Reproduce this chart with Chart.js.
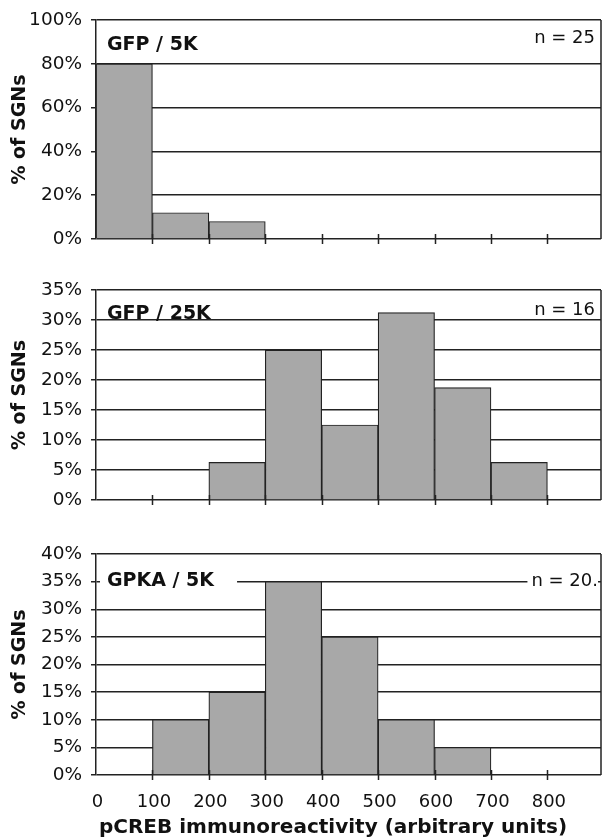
<!DOCTYPE html>
<html>
<head>
<meta charset="utf-8">
<script src="https://cdn.jsdelivr.net/npm/chart.js@4/dist/chart.umd.min.js"></script>
<style>
  html, body { margin: 0; padding: 0; background: #fff; }
  #wrap { position: relative; width: 602px; height: 840px; }
  canvas { position: absolute; left: 0; }
</style>
</head>
<body>
<div id="wrap">
  <canvas id="p1" width="602" height="270" style="top:0"></canvas>
  <canvas id="p2" width="602" height="250" style="top:270px"></canvas>
  <canvas id="p3" width="602" height="320" style="top:520px"></canvas>
</div>
<script>
// Histogram bins: lower edge of each 100-unit pCREB intensity bin
const binStarts = [0, 100, 200, 300, 400, 500, 600, 700, 800];
const binWidth = 100;
const xTickValues = [0, 100, 200, 300, 400, 500, 600, 700, 800];

// Percentage of SGNs falling in each bin
const gfp5k  = [80, 12, 8, 0, 0, 0, 0, 0, 0];
const gfp25k = [0, 0, 6.25, 25, 12.5, 31.25, 18.75, 6.25, 0];
const gpka5k = [0, 10, 15, 35, 25, 10, 5, 0, 0];

const panelNames  = ['GFP / 5K', 'GFP / 25K', 'GPKA / 5K'];
const panelCounts = ['n = 25', 'n = 16', 'n = 20.'];
const yMaxes = [100, 35, 40];
const ySteps = [20, 5, 5];

const FAMILY = "'DejaVu Sans', 'Liberation Sans', sans-serif";
const INK = '#222';
const TEXT = '#111';
const BAR_FILL = '#a8a8a8';

// Frame, crossing x ticks, panel captions, x tick labels and the x-axis title
const decor = {
  id: 'decor',
  afterDatasetsDraw(chart, args, o) {
    const { ctx, chartArea: a, scales: { x, y } } = chart;
    ctx.save();
    ctx.strokeStyle = INK;
    ctx.lineWidth = 1.5;

    // right frame edge
    ctx.beginPath();
    ctx.moveTo(a.right, a.top);
    ctx.lineTo(a.right, a.bottom);
    ctx.stroke();

    // tick marks at the bin boundaries, crossing the baseline
    const y0 = y.getPixelForValue(0);
    ctx.beginPath();
    for (let i = 1; i < binStarts.length; i++) {
      const px = Math.round(x.getPixelForValue(binStarts[i])) + 0.5;
      ctx.moveTo(px, y0 - 5);
      ctx.lineTo(px, y0 + 5);
    }
    ctx.stroke();

    ctx.textBaseline = 'middle';
    ctx.fillStyle = TEXT;

    // condition caption (left)
    ctx.font = 'bold 19px ' + FAMILY;
    const lx = a.left + 11;
    const ly = a.top + o.nameDy;
    if (o.mask) {
      const w = ctx.measureText(o.name).width;
      ctx.fillStyle = '#fff';
      ctx.fillRect(a.left + 4, ly - 9, w + 30, 18);
      ctx.fillStyle = TEXT;
    }
    ctx.textAlign = 'left';
    ctx.fillText(o.name, lx, ly);

    // sample size (right)
    ctx.font = '18px ' + FAMILY;
    const rx = a.right - o.countInset;
    const ry = a.top + o.countDy;
    if (o.mask) {
      const w = ctx.measureText(o.count).width;
      ctx.fillStyle = '#fff';
      ctx.fillRect(rx - w - 4, ry - 9, w + 4, 18);
      ctx.fillStyle = TEXT;
    }
    ctx.textAlign = 'right';
    ctx.fillText(o.count, rx, ry);

    // x tick labels and axis title under the lowest panel
    if (o.xTitle) {
      ctx.font = '18px ' + FAMILY;
      ctx.textAlign = 'center';
      xTickValues.forEach(v => {
        ctx.fillText(String(v), x.getPixelForValue(v) + 1.5, y0 + 27);
      });
      ctx.font = 'bold 20px ' + FAMILY;
      ctx.fillText(o.xTitle, o.xTitleX, y0 + 53);
    }
    ctx.restore();
  }
};

function makePanel(id, values, idx, opts) {
  return new Chart(document.getElementById(id), {
    type: 'bar',
    data: {
      datasets: [{
        data: binStarts.map((s, i) => ({ x: s + binWidth / 2, y: values[i] > 0 ? values[i] : null })),
        backgroundColor: BAR_FILL,
        borderColor: INK,
        borderWidth: 1.2,
        borderSkipped: 'start',
        barPercentage: 1,
        categoryPercentage: 1
      }]
    },
    options: {
      responsive: false,
      animation: false,
      events: [],
      layout: { padding: opts.padding },
      plugins: {
        legend: { display: false },
        tooltip: { enabled: false },
        decor: {
          name: panelNames[idx],
          count: panelCounts[idx],
          nameDy: opts.nameDy,
          countDy: opts.countDy,
          countInset: opts.countInset,
          mask: opts.mask,
          xTitle: opts.xTitle,
          xTitleX: opts.xTitleX
        }
      },
      scales: {
        x: {
          type: 'linear',
          min: 0,
          max: 895,
          offset: false,
          grid: { display: false },
          border: { display: false },
          afterBuildTicks: s => { s.ticks = xTickValues.map(v => ({ value: v })); },
          ticks: { display: false },
          afterFit: s => { s.height = 0; }
        },
        y: {
          min: 0,
          max: yMaxes[idx],
          ticks: {
            stepSize: ySteps[idx],
            padding: 9,
            color: TEXT,
            font: { family: FAMILY, size: 18.5 },
            callback: v => v + '%'
          },
          grid: { color: INK, lineWidth: 1.5, tickLength: 5 },
          border: { color: INK, width: 1.5 },
          title: {
            display: true,
            text: '% of SGNs',
            color: TEXT,
            font: { family: FAMILY, size: 19, weight: 'bold' },
            padding: { top: 9, bottom: 0 }
          },
          afterFit: s => { s.width = 96; }
        }
      }
    },
    plugins: [decor]
  });
}

makePanel('p1', gfp5k, 0, {
  padding: { top: 17, bottom: 31, left: 0, right: 1 },
  nameDy: 25, countDy: 18, countInset: 6, mask: false
});
makePanel('p2', gfp25k, 1, {
  padding: { top: 16, bottom: 13, left: 0, right: 1 },
  nameDy: 24, countDy: 20, countInset: 6, mask: false
});
makePanel('p3', gpka5k, 2, {
  padding: { top: 34, bottom: 65, left: 0, right: 1 },
  nameDy: 27, countDy: 27, countInset: 3, mask: true,
  xTitle: 'pCREB immunoreactivity (arbitrary units)', xTitleX: 333
});
</script>
</body>
</html>
